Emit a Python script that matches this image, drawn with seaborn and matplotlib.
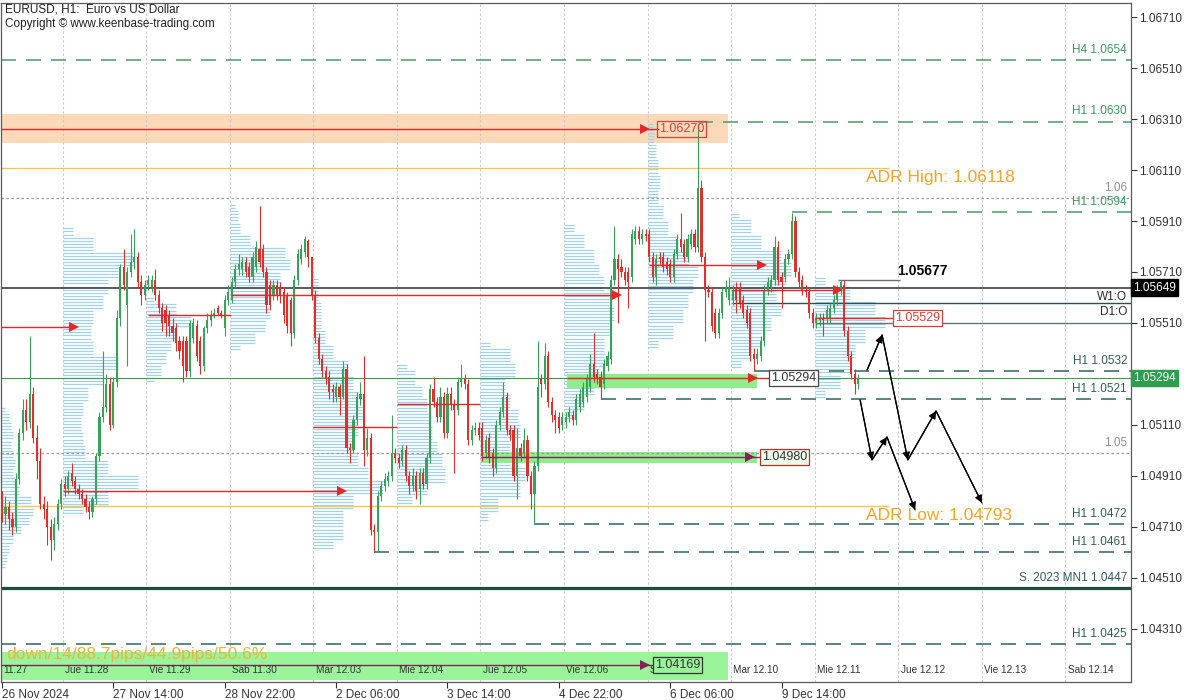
import numpy as np
import matplotlib
matplotlib.use("Agg")
import matplotlib.pyplot as plt
import matplotlib.transforms as mtransforms
import seaborn as sns
import pandas as pd

# ---------------- data (EURUSD H1, bar 0 = 26 Nov 2024 06:00) ----------------
opens = [
 1.0482,1.0476,1.0479,1.0474,1.0471,1.0490,1.0508,1.0517,1.0512,1.0523,
 1.0506,1.0497,1.0480,1.0478,1.0471,1.0466,1.0472,1.0480,1.0488,1.0486,
 1.0492,1.0489,1.0486,1.0484,1.0482,1.0479,1.0477,1.0482,1.0499,1.0514,
 1.0518,1.0527,1.0511,1.0528,1.0553,1.0573,1.0558,1.0571,1.0575,1.0577,
 1.0567,1.0562,1.0566,1.0565,1.0568,1.0562,1.0557,1.0556,1.0554,1.0550,
 1.0549,1.0544,1.0544,1.0544,1.0532,1.0545,1.0550,1.0544,1.0534,1.0549,
 1.0552,1.0554,1.0557,1.0555,1.0549,1.0560,1.0560,1.0567,1.0572,1.0572,
 1.0575,1.0573,1.0569,1.0573,1.0580,1.0580,1.0571,1.0566,1.0562,1.0566,
 1.0565,1.0563,1.0562,1.0560,1.0547,
 1.0568,1.0576,1.0579,1.0583,1.0577,1.0562,1.0545,1.0537,1.0532,1.0530,
 1.0525,1.0522,1.0526,1.0522,1.0533,1.0502,1.0501,1.0513,1.0521,1.0523,
 1.0501,1.0506,1.0470,1.0469,1.0483,1.0487,1.0489,1.0491,1.0500,1.0498,
 1.0497,1.0501,1.0491,1.0487,1.0491,1.0486,1.0492,1.0488,1.0498,1.0525,
 1.0520,1.0514,1.0522,1.0508,1.0523,1.0519,1.0517,1.0528,1.0529,1.0527,
 1.0505,1.0509,1.0510,1.0510,1.0500,1.0506,1.0500,1.0494,1.0511,1.0516,
 1.0522,1.0509,1.0509,1.0491,1.0502,1.0500,1.0505,1.0491,1.0484,1.0495,
 1.0529,1.0527,1.0538,1.0520,1.0515,1.0514,1.0511,1.0512,1.0514,1.0515,
 1.0513,
 1.0518,1.0520,1.0522,1.0526,1.0535,1.0531,1.0530,1.0527,1.0534,1.0537,
 1.0568,1.0576,1.0573,1.0571,1.0571,1.0569,1.0584,1.0587,1.0584,1.0586,
 1.0586,1.0577,1.0569,1.0577,1.0577,1.0575,1.0574,1.0569,1.0578,1.0584,
 1.0582,1.0577,1.0582,1.0586,1.0581,1.0604,1.0577,1.0564,1.0563,1.0555,
 1.0547,1.0555,1.0563,1.0560,1.0560,1.0565,1.0565,1.0560,1.0556,1.0555,
 1.0539,1.0537,1.0538,1.0544,1.0564,1.0565,1.0568,1.0581,1.0569,1.0569,
 1.0576,1.0578,1.0591,1.0571,1.0568,1.0564,1.0563,1.0555,1.0551,1.0552,
 1.0553,1.0553,1.0553,1.0557,1.0560,1.0564,1.0566,1.0548,1.0538,1.0531,
 1.0527]
closes = [
 1.0476,1.0479,1.0474,1.0471,1.0490,1.0508,1.0517,1.0512,1.0523,1.0506,
 1.0497,1.0480,1.0478,1.0471,1.0466,1.0472,1.0480,1.0488,1.0486,1.0491,
 1.0489,1.0486,1.0484,1.0482,1.0479,1.0477,1.0482,1.0499,1.0514,1.0518,
 1.0527,1.0511,1.0528,1.0553,1.0573,1.0566,1.0571,1.0575,1.0577,1.0567,
 1.0562,1.0566,1.0568,1.0568,1.0562,1.0557,1.0551,1.0551,1.0550,1.0547,
 1.0543,1.0540,1.0534,1.0532,1.0551,1.0551,1.0538,1.0534,1.0549,1.0552,
 1.0554,1.0555,1.0555,1.0554,1.0560,1.0563,1.0567,1.0572,1.0574,1.0575,
 1.0571,1.0569,1.0577,1.0581,1.0575,1.0571,1.0558,1.0558,1.0566,1.0562,
 1.0562,1.0554,1.0550,1.0547,1.0568,
 1.0578,1.0580,1.0584,1.0577,1.0562,1.0545,1.0537,1.0532,1.0529,1.0524,
 1.0524,1.0526,1.0522,1.0533,1.0502,1.0501,1.0513,1.0522,1.0523,1.0501,
 1.0506,1.0470,1.0469,1.0483,1.0487,1.0490,1.0491,1.0500,1.0498,1.0496,
 1.0501,1.0491,1.0487,1.0491,1.0485,1.0492,1.0488,1.0498,1.0525,1.0520,
 1.0514,1.0522,1.0508,1.0523,1.0519,1.0517,1.0528,1.0529,1.0527,1.0505,
 1.0509,1.0510,1.0507,1.0499,1.0505,1.0498,1.0494,1.0511,1.0516,1.0522,
 1.0509,1.0507,1.0491,1.0502,1.0499,1.0505,1.0491,1.0484,1.0495,1.0526,
 1.0527,1.0538,1.0520,1.0515,1.0513,1.0510,1.0514,1.0514,1.0516,1.0513,
 1.0521,
 1.0523,1.0526,1.0529,1.0535,1.0530,1.0529,1.0526,1.0535,1.0538,1.0568,
 1.0576,1.0572,1.0571,1.0568,1.0567,1.0586,1.0587,1.0584,1.0586,1.0585,
 1.0577,1.0569,1.0576,1.0576,1.0573,1.0572,1.0569,1.0578,1.0584,1.0581,
 1.0577,1.0584,1.0586,1.0581,1.0604,1.0577,1.0564,1.0563,1.0550,1.0547,
 1.0555,1.0563,1.0565,1.0565,1.0564,1.0560,1.0559,1.0555,1.0551,1.0538,
 1.0537,1.0539,1.0544,1.0564,1.0567,1.0568,1.0581,1.0568,1.0567,1.0576,
 1.0578,1.0591,1.0571,1.0567,1.0564,1.0563,1.0555,1.0551,1.0553,1.0553,
 1.0552,1.0556,1.0557,1.0560,1.0564,1.0567,1.0548,1.0538,1.0531,1.0527,
 1.0529]
highs = [
 1.0485,1.0483,1.0481,1.0477,1.0492,1.0510,1.0521,1.0521,1.0546,1.0526,
 1.0511,1.0502,1.0483,1.0481,1.0474,1.0475,1.0482,1.0490,1.0491,1.0493,
 1.0496,1.0491,1.0488,1.0486,1.0484,1.0481,1.0483,1.0500,1.0516,1.0540,
 1.0531,1.0530,1.0530,1.0556,1.0574,1.0580,1.0573,1.0586,1.0588,1.0579,
 1.0570,1.0568,1.0570,1.0570,1.0572,1.0564,1.0559,1.0558,1.0556,1.0553,
 1.0551,1.0546,1.0546,1.0546,1.0552,1.0553,1.0552,1.0546,1.0550,1.0555,
 1.0556,1.0557,1.0558,1.0556,1.0562,1.0566,1.0569,1.0574,1.0578,1.0577,
 1.0577,1.0575,1.0579,1.0583,1.0597,1.0582,1.0573,1.0568,1.0568,1.0568,
 1.0567,1.0565,1.0563,1.0561,1.0570,
 1.0580,1.0582,1.0585,1.0584,1.0577,1.0564,1.0547,1.0539,1.0534,1.0532,
 1.0527,1.0528,1.0527,1.0536,1.0535,1.0504,1.0515,1.0524,1.0528,1.0538,
 1.0510,1.0508,1.0472,1.0485,1.0489,1.0492,1.0493,1.0515,1.0502,1.0500,
 1.0503,1.0503,1.0493,1.0494,1.0493,1.0494,1.0494,1.0500,1.0527,1.0530,
 1.0522,1.0526,1.0524,1.0526,1.0526,1.0521,1.0530,1.0535,1.0531,1.0529,
 1.0511,1.0512,1.0512,1.0512,1.0507,1.0508,1.0502,1.0513,1.0518,1.0528,
 1.0524,1.0511,1.0511,1.0510,1.0504,1.0510,1.0507,1.0493,1.0497,1.0544,
 1.0531,1.0543,1.0540,1.0522,1.0517,1.0516,1.0516,1.0516,1.0518,1.0517,
 1.0523,
 1.0525,1.0528,1.0531,1.0539,1.0547,1.0533,1.0532,1.0537,1.0540,1.0570,
 1.0589,1.0578,1.0576,1.0573,1.0573,1.0588,1.0589,1.0589,1.0588,1.0588,
 1.0588,1.0579,1.0578,1.0579,1.0579,1.0577,1.0576,1.0580,1.0586,1.0594,
 1.0584,1.0586,1.0588,1.0588,1.0629,1.0607,1.0579,1.0566,1.0565,1.0557,
 1.0557,1.0565,1.0568,1.0569,1.0566,1.0567,1.0567,1.0562,1.0558,1.0557,
 1.0541,1.0541,1.0546,1.0566,1.0569,1.0570,1.0585,1.0583,1.0571,1.0578,
 1.0580,1.0594,1.0593,1.0573,1.0570,1.0566,1.0565,1.0557,1.0555,1.0555,
 1.0555,1.0558,1.0559,1.0562,1.0566,1.0568,1.0568,1.0550,1.0540,1.0533,
 1.0531]
lows = [
 1.0473,1.0472,1.0470,1.0468,1.0469,1.0488,1.0505,1.0509,1.0510,1.0504,
 1.0490,1.0478,1.0474,1.0464,1.0458,1.0462,1.0470,1.0478,1.0483,1.0484,
 1.0487,1.0484,1.0482,1.0480,1.0477,1.0474,1.0475,1.0480,1.0497,1.0512,
 1.0516,1.0509,1.0510,1.0526,1.0550,1.0564,1.0534,1.0569,1.0572,1.0565,
 1.0558,1.0560,1.0564,1.0563,1.0560,1.0555,1.0548,1.0546,1.0546,1.0544,
 1.0540,1.0537,1.0528,1.0530,1.0530,1.0543,1.0536,1.0531,1.0532,1.0547,
 1.0550,1.0553,1.0554,1.0553,1.0546,1.0558,1.0559,1.0565,1.0570,1.0570,
 1.0569,1.0567,1.0567,1.0571,1.0573,1.0569,1.0555,1.0556,1.0560,1.0560,
 1.0559,1.0551,1.0547,1.0542,1.0545,
 1.0566,1.0574,1.0577,1.0573,1.0560,1.0543,1.0535,1.0530,1.0527,1.0521,
 1.0520,1.0520,1.0515,1.0521,1.0500,1.0496,1.0500,1.0511,1.0519,1.0495,
 1.0499,1.0468,1.0461,1.0461,1.0481,1.0485,1.0487,1.0489,1.0496,1.0494,
 1.0495,1.0489,1.0484,1.0485,1.0482,1.0480,1.0486,1.0486,1.0496,1.0518,
 1.0512,1.0512,1.0506,1.0506,1.0517,1.0492,1.0515,1.0526,1.0525,1.0503,
 1.0503,1.0507,1.0505,1.0497,1.0498,1.0496,1.0491,1.0492,1.0509,1.0514,
 1.0507,1.0505,1.0489,1.0482,1.0497,1.0498,1.0489,1.0478,1.0472,1.0493,
 1.0522,1.0525,1.0518,1.0512,1.0508,1.0508,1.0509,1.0510,1.0512,1.0511,
 1.0511,
 1.0516,1.0518,1.0520,1.0524,1.0528,1.0527,1.0521,1.0525,1.0532,1.0535,
 1.0566,1.0551,1.0569,1.0566,1.0557,1.0567,1.0582,1.0582,1.0582,1.0583,
 1.0575,1.0567,1.0566,1.0574,1.0571,1.0570,1.0567,1.0567,1.0576,1.0579,
 1.0575,1.0575,1.0580,1.0579,1.0579,1.0575,1.0544,1.0561,1.0548,1.0545,
 1.0545,1.0553,1.0561,1.0558,1.0558,1.0555,1.0557,1.0553,1.0549,1.0536,
 1.0532,1.0535,1.0536,1.0542,1.0562,1.0563,1.0566,1.0566,1.0557,1.0567,
 1.0574,1.0576,1.0569,1.0565,1.0562,1.0561,1.0553,1.0549,1.0549,1.0550,
 1.0546,1.0551,1.0551,1.0555,1.0558,1.0562,1.0546,1.0536,1.0529,1.0523,
 1.0525]

# x-axis date labels (bar index -> label)
date_tick_hours = [0, 32, 64, 96, 128, 160, 192, 224]
date_tick_labels = ["26 Nov 2024", "27 Nov 14:00", "28 Nov 22:00", "2 Dec 06:00",
                    "3 Dec 14:00", "4 Dec 22:00", "6 Dec 06:00", "9 Dec 14:00"]
day_labels = ["11.27", "Jue 11.28", "Vie 11.29", "Sab 11.30", "Mar 12.03", "Mie 12.04",
              "Jue 12.05", "Vie 12.06", "Sab 12.07", "Mar 12.10", "Mie 12.11",
              "Jue 12.12", "Vie 12.13", "Sab 12.14"]

# daily volume profiles (top price, bottom price, relative volume per level top->bottom)
vp_tops = [1.05181, 1.05883, 1.05612, 1.05973, 1.05686, 1.05353, 1.05443, 1.05894, 1.06298, 1.05941, 1.05690]
vp_bottoms = [1.04553, 1.04765, 1.05283, 1.05408, 1.04628, 1.04804, 1.04737, 1.05137, 1.05416, 1.05337, 1.05220]
vp_day0 = [4, 8, 10, 12, 10, 12, 14, 12, 14, 18, 30, 32, 28, 20, 12, 8, 6, 4]
vp_day1 = [10, 30, 70, 55, 45, 40, 30, 28, 30, 55, 40, 25, 20, 18, 20, 22, 45, 75, 45, 20]
vp_day2 = [8, 30, 45, 30, 25, 20, 15, 8]
vp_day3 = [5, 8, 10, 20, 55, 60, 50, 45, 35, 40, 35, 25, 10]
vp_day4 = [5, 5, 8, 8, 12, 20, 35, 40, 45, 50, 45, 40, 45, 55, 70, 40, 30, 30, 20]
vp_day5 = [10, 18, 25, 30, 32, 35, 40, 45, 48, 30, 15]
vp_day6 = [10, 30, 35, 25, 30, 38, 40, 30, 30, 45, 40, 18, 8]
vp_day7 = [10, 20, 30, 35, 40, 45, 50, 45, 40, 40, 35, 30, 20, 10]
vp_day8 = [5, 6, 8, 10, 12, 10, 15, 20, 30, 40, 50, 45, 40, 35, 25, 10]
vp_day9 = [8, 20, 30, 50, 60, 55, 45, 50, 40, 30, 20, 10]
vp_day10 = [10, 35, 60, 70, 50, 40, 35, 25, 10]

# key levels
level_names = ["H4 1.0654", "H1 1.0630", "H1 1.0594", "H1 1.0532", "H1 1.0521",
               "H1 1.0472", "H1 1.0461", "H1 1.0425"]
level_prices = [1.0654, 1.0630, 1.05945, 1.0532, 1.0521, 1.0472, 1.0461, 1.0425]
level_from_hour = [None, 200, 227, 216, 172, 153, 107, None]
w1_open = 1.05649
d1_open = 1.05590
prev_level = 1.05510
last_price = 1.05294
mn1_support = 1.0447
adr_high = 1.06118
adr_low = 1.04793
round_levels = [1.0600, 1.0500]
swing_high = 1.05677

# zones
supply_zone = (1.06216, 1.06330)
zone_05294 = (1.05255, 1.05310)
zone_04980 = (1.04961, 1.05004)
zone_bottom = (1.04110, 1.04220)

# red horizontal arrows: price, from hour, to hour, arrow-head hour
red_arr_price = [1.05494, 1.04851, 1.05541, 1.05620, 1.05102, 1.05192, 1.05737, 1.05639, 1.06271, 1.05294, 1.05530]
red_arr_from = [None, 17.5, 41.9, 65.8, 89.5, 113.5, 185.9, 209.8, None, 162.4, 233.6]
red_arr_to = [20.7, 97.7, 65.8, 176.7, 113.5, 137.5, 218.4, 240.2, 188.8, 221.0, 256.6]
red_arr_head = [20.7, 97.7, None, 176.7, None, None, 218.4, 240.2, 184.8, 215.8, None]
purple_arr_price = [1.04983, 1.04169]
purple_arr_from = [137.6, None]
purple_arr_to = [218.4, 187.6]
purple_arr_head = [215.0, 184.8]

# price boxes
box_texts = ["1.06270", "1.05529", "1.05294", "1.04980", "1.04169"]
box_hours = [188.8, 256.6, 221.0, 218.4, 187.6]
box_prices = [1.06271, 1.05530, 1.05294, 1.04983, 1.04169]

# forecast paths
path1_hours = [246.6, 250.0, 254.3, 262.4]
path1_prices = [1.05208, 1.04973, 1.05063, 1.04777]
path2_hours = [248.6, 252.9, 260.3, 268.4, 281.6]
path2_prices = [1.05326, 1.05463, 1.04973, 1.05165, 1.04804]

# ---------------- drawing ----------------
sns.set_theme(style="white")
plt.rcParams['font.family'] = ['Liberation Sans', 'DejaVu Sans']

GREEN = '#36a35a'
RED = '#e0302c'
ARROW_RED = '#e8262a'
PURPLE = '#86205a'
PX_PER_BAR = 3.48

XMIN, XMAX = -0.287, 324.43
YMIN, YMAX = 1.04102, 1.06765

fig = plt.figure(figsize=(12, 7), dpi=100)
fig.patch.set_facecolor('white')
ax = fig.add_axes([1 / 1200, 18 / 700, 1130 / 1200, 679 / 700])
ax.set_facecolor('white')
ax.set_xlim(XMIN, XMAX)
ax.set_ylim(YMIN, YMAX)
blend = mtransforms.blended_transform_factory(ax.transAxes, ax.transData)

def fx(v):
    return XMIN if v is None else v

# day separators
sep_hours = 17.5 + 24 * np.arange(13)
ax.vlines(sep_hours, YMIN, YMAX, colors='#c9c9c9', linestyles=(0, (2, 2)), lw=0.8, zorder=0.8)

# supply zone (under profiles)
ax.fill_between([XMIN, 208.6], supply_zone[0], supply_zone[1], color='#fcd9b8', lw=0, zorder=0.5)

# volume profiles
vp_levels = [vp_day0, vp_day1, vp_day2, vp_day3, vp_day4, vp_day5, vp_day6,
             vp_day7, vp_day8, vp_day9, vp_day10]
vp_starts = [XMIN] + list(sep_hours[:10])
for s, top, bot, vols in zip(vp_starts, vp_tops, vp_bottoms, vp_levels):
    n = len(vols)
    ys = np.arange(bot, top + 1e-7, 0.00012)
    k = np.clip(np.round((top - ys) / (top - bot) * (n - 1)).astype(int), 0, n - 1)
    widths = np.array(vols, dtype=float)[k] / PX_PER_BAR
    ax.hlines(ys, s, s + widths, colors='#a2d2e8', lw=0.9, zorder=1)

# green zones (over profiles)
ax.fill_between([162.4, 217.0], zone_05294[0], zone_05294[1], color='#8fec8f', lw=0, zorder=1.5)
ax.fill_between([137.6, 217.0], zone_04980[0], zone_04980[1], color='#8fec8f', lw=0, zorder=1.5)
ax.fill_between([XMIN, 208.6], zone_bottom[0], zone_bottom[1], color='#9af59a', lw=0, zorder=1.5)

# round levels
for p in round_levels:
    ax.hlines(p, XMIN, XMAX, colors='#9a9a9a', linestyles=(0, (2, 2)), lw=0.9, zorder=2)

# ADR lines
ax.hlines([adr_high, adr_low], XMIN, 255, colors='#f2c94c', lw=1.0, zorder=2)

# key dashed levels
for name, p, st in zip(level_names, level_prices, level_from_hour):
    col = '#5aa173' if p > 1.0590 else '#3f6f6b'
    ax.hlines(p, fx(st), XMAX, colors=col, linestyles=(0, (9, 6)), lw=1.2, zorder=2)

# structural lines
ax.hlines(w1_open, XMIN, XMAX, colors='#4d4d4d', lw=1.3, zorder=2.2)
ax.hlines(d1_open, 209.8, XMAX, colors='#2f4f4f', lw=1.0, zorder=2.2)
ax.hlines(prev_level, 233.6, XMAX, colors='#5f7575', lw=1.0, zorder=2.2)
ax.hlines(last_price, XMIN, XMAX, colors='#3c9c50', lw=0.8, zorder=2.2)
ax.hlines(mn1_support, XMIN, XMAX, colors='#1d4d3d', lw=2.3, zorder=2.2)
ax.hlines(swing_high, 240.2, 258.0, colors='#6e6e6e', lw=1.0, zorder=2.2)

# candles
df = pd.DataFrame({'o': opens, 'h': highs, 'l': lows, 'c': closes})
idx = np.arange(len(df))
up = (df['c'] >= df['o']).values
cols = np.where(up, GREEN, RED)
ax.vlines(idx, df['l'], df['h'], colors=cols, lw=0.8, zorder=3)
body_bottom = np.minimum(df['o'], df['c'])
body_h = np.maximum(np.abs(df['c'] - df['o']), 0.00002)
ax.bar(idx, body_h, bottom=body_bottom, width=0.62, color=cols, linewidth=0, zorder=3.1)

# horizontal arrows
for p, a, b, h in zip(red_arr_price, red_arr_from, red_arr_to, red_arr_head):
    ax.hlines(p, fx(a), b, colors=ARROW_RED, lw=1.0, zorder=3.5)
    if h is not None:
        ax.plot([h], [p], marker='>', ms=7, color=ARROW_RED, mew=0, zorder=3.6)
for p, a, b, h in zip(purple_arr_price, purple_arr_from, purple_arr_to, purple_arr_head):
    ax.hlines(p, fx(a), b, colors=PURPLE, lw=1.0, zorder=3.5)
    ax.plot([h], [p], marker='>', ms=7, color=PURPLE, mew=0, zorder=3.6)

# price boxes
box_styles = [('#d9403a', '#d9403a', 'none'), ('#d9403a', '#d9403a', 'white'),
              ('#333333', '#444444', 'white'), ('#333333', '#a8362c', '#eefaea'),
              ('#333333', '#333333', '#9af59a')]
for t, h, p, (tc, ec, fc) in zip(box_texts, box_hours, box_prices, box_styles):
    ax.text(h, p, t, ha='left', va='center', fontsize=9, color=tc, zorder=7,
            bbox=dict(boxstyle='square,pad=0.15', fc=fc, ec=ec, lw=0.9))

# forecast paths
for hs, ps in [(path1_hours, path1_prices), (path2_hours, path2_prices)]:
    sns.lineplot(x=hs, y=ps, sort=False, estimator=None, color='black', lw=0.9, ax=ax, zorder=4)
    for j in range(len(hs) - 1):
        ax.annotate('', xy=(hs[j + 1], ps[j + 1]), xytext=(hs[j], ps[j]),
                    arrowprops=dict(arrowstyle='-|>', color='black', lw=0.9,
                                    mutation_scale=11, shrinkA=0, shrinkB=0), zorder=4)

# texts
ax.annotate(f"ADR High: {adr_high:.5f}", xy=(248.3, adr_high), xytext=(0, -1.5),
            textcoords='offset points', ha='left', va='top', fontsize=12.5, color='#f2a52a', zorder=5)
ax.annotate(f"ADR Low: {adr_low:.5f}", xy=(248.3, adr_low), xytext=(0, -1.5),
            textcoords='offset points', ha='left', va='top', fontsize=12.5, color='#f2a52a', zorder=5)
ax.annotate(f"{swing_high:.5f}", xy=(257.2, swing_high), xytext=(0, 1.5),
            textcoords='offset points', ha='left', va='bottom', fontsize=10,
            fontweight='bold', color='black', zorder=5)
ax.text(1.2, 1.04210, "down/14/88.7pips/44.9pips/50.6%", ha='left', va='center',
        fontsize=12.5, color='#f0b23a', zorder=5)
ax.text(0.0035, 0.990, "EURUSD, H1:  Euro vs US Dollar", transform=ax.transAxes,
        ha='left', va='center', fontsize=8.5, color='#222222', zorder=6)
ax.text(0.0035, 0.969, "Copyright \u00a9 www.keenbase-trading.com", transform=ax.transAxes,
        ha='left', va='center', fontsize=8.5, color='#222222', zorder=6)

# right-side labels
right_labels = level_names[:3] + ["1.06", "W1:O", "D1:O"] + level_names[3:5] + ["1.05"] + \
    level_names[5:7] + ["S. 2023 MN1 1.0447", level_names[7]]
right_prices = level_prices[:3] + [1.0600, w1_open, d1_open] + level_prices[3:5] + [1.0500] + \
    level_prices[5:7] + [mn1_support, level_prices[7]]
for t, p in zip(right_labels, right_prices):
    below = t in ("W1:O", "D1:O")
    if t in ("1.06", "1.05"):
        col = '#8f8f8f'
    elif p > 1.0590:
        col = '#3f9a5c'
    elif below:
        col = '#2a2a2a'
    else:
        col = '#2f5e5a'
    ax.annotate(t, xy=(0.9965, p), xycoords=blend, xytext=(0, -2.5 if below else 3),
                textcoords='offset points', ha='right', va='top' if below else 'bottom',
                fontsize=8.5, color=col, zorder=6)

# day labels inside plot (one hidden behind the 1.04169 box as in the reference)
day_pos = [0.3] + list(sep_hours + 0.7)
day_tr = mtransforms.blended_transform_factory(ax.transData, ax.transAxes)
for t, h in zip(day_labels, day_pos):
    ax.text(h, 0.010, t, transform=day_tr, ha='left', va='bottom', fontsize=7.2,
            color='#333333', zorder=6)

# price tags on the axis
ax.text(1.0018, w1_open, f"{w1_open:.5f}", transform=blend, ha='left', va='center',
        fontsize=8.5, color='white', clip_on=False, zorder=7,
        bbox=dict(boxstyle='square,pad=0.2', fc='black', ec='black'))
ax.text(1.0018, last_price, f"{last_price:.5f}", transform=blend, ha='left', va='center',
        fontsize=8.5, color='white', clip_on=False, zorder=7,
        bbox=dict(boxstyle='square,pad=0.2', fc='#2e9d4e', ec='#2e9d4e'))

# axes styling (the 1.05310 tick label sits under the current-price tag)
ax.yaxis.tick_right()
yt = np.round(np.arange(1.0431, 1.06711, 0.002), 5)
ax.set_yticks(yt)
ax.set_yticklabels(["" if abs(v - 1.0531) < 1e-6 else f"{v:.5f}" for v in yt])
ax.set_xticks(date_tick_hours)
ax.set_xticklabels(date_tick_labels)
for lbl in ax.get_xticklabels():
    lbl.set_horizontalalignment('left')
ax.tick_params(axis='x', bottom=True, direction='out', length=4, width=0.8,
               colors='#333333', labelsize=8.5, pad=1)
ax.tick_params(axis='y', right=True, left=False, direction='out', length=4, width=0.8,
               colors='#333333', labelsize=8.5, pad=2)
ax.set_xlabel('')
ax.set_ylabel('')
for sp in ax.spines.values():
    sp.set_visible(True)
    sp.set_color('#5a5a5a')
    sp.set_linewidth(0.9)
ax.grid(False)

fig.savefig('out.png', dpi=100)
